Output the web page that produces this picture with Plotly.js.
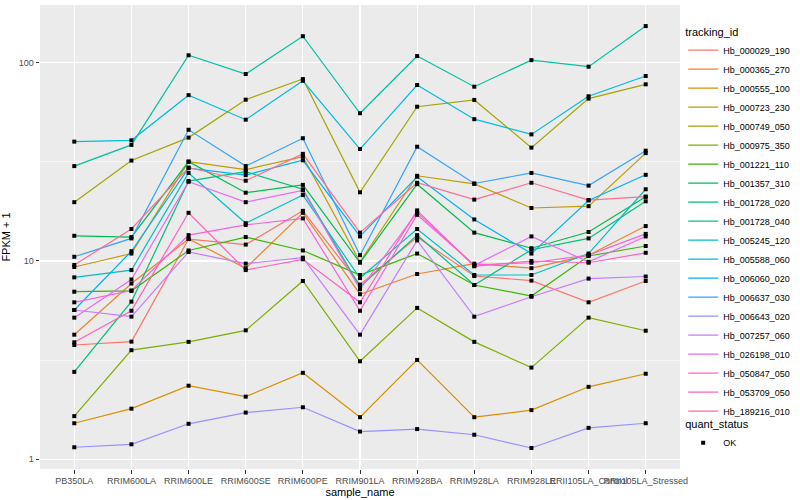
<!DOCTYPE html>
<html>
<head>
<meta charset="utf-8">
<script src="https://cdn.plot.ly/plotly-3.0.1.min.js"></script>
<style>html,body{margin:0;padding:0;background:#fff}#chart{width:800px;height:500px}</style>
</head>
<body>
<div id="chart"></div>
<script>
// ---- data ----
const sampleNames = ["PB350LA","RRIM600LA","RRIM600LE","RRIM600SE","RRIM600PE","RRIM901LA","RRIM928BA","RRIM928LA","RRIM928LE","RRII105LA_Control","RRII105LA_Stressed"];
const trackingIds = ["Hb_000029_190","Hb_000365_270","Hb_000555_100","Hb_000723_230","Hb_000749_050","Hb_000975_350","Hb_001221_110","Hb_001357_310","Hb_001728_020","Hb_001728_040","Hb_005245_120","Hb_005588_060","Hb_006060_020","Hb_006637_030","Hb_006643_020","Hb_007257_060","Hb_026198_010","Hb_050847_050","Hb_053709_050","Hb_189216_010"];
const Hb_000029_190 = [3.77, 3.92, 12.9, 12.1, 17.9, 7.6, 13.2, 8.4, 7.96, 6.19, 7.93];
const Hb_000365_270 = [4.25, 7.7, 12.9, 9.2, 17.5, 6.8, 8.6, 9.7, 9.2, 10.7, 15.0];
const Hb_000555_100 = [1.52, 1.80, 2.35, 2.07, 2.73, 1.63, 3.17, 1.63, 1.77, 2.32, 2.70];
const Hb_000723_230 = [9.33, 10.9, 31.7, 28.9, 33.6, 9.9, 26.9, 24.5, 18.5, 18.9, 35.0];
const Hb_000749_050 = [19.8, 32.1, 41.9, 65.1, 82.7, 22.2, 60.0, 64.9, 37.3, 65.9, 77.8];
const Hb_000975_350 = [1.65, 3.55, 3.91, 4.47, 7.93, 3.12, 5.80, 3.91, 2.90, 5.18, 4.45];
const Hb_001221_110 = [7.0, 7.07, 11.3, 13.2, 11.3, 8.5, 10.9, 7.57, 6.66, 10.6, 11.9];
const Hb_001357_310 = [13.4, 13.2, 31.7, 22.1, 24.2, 9.8, 24.4, 13.9, 11.6, 14.0, 21.1];
const Hb_001728_020 = [2.76, 6.24, 25.3, 28.2, 23.0, 7.4, 13.5, 7.57, 11.4, 13.0, 20.0];
const Hb_001728_040 = [30.1, 38.5, 109, 87.7, 136, 55.6, 108, 75.7, 103, 95.5, 153];
const Hb_005245_120 = [8.27, 9.0, 27.8, 15.5, 21.5, 8.2, 14.5, 8.5, 8.5, 10.9, 23.0];
const Hb_005588_060 = [40.0, 40.6, 68.6, 51.6, 81, 36.7, 77.2, 51.9, 43.5, 67.7, 85.7];
const Hb_006060_020 = [5.66, 11.2, 29.4, 27.1, 32.2, 13.3, 26.6, 16.2, 10.9, 20.2, 27.2];
const Hb_006637_030 = [10.5, 13.0, 45.9, 30.1, 41.6, 10.7, 37.7, 24.6, 27.8, 24.0, 36.0];
const Hb_006643_020 = [1.15, 1.19, 1.51, 1.72, 1.83, 1.38, 1.42, 1.33, 1.14, 1.44, 1.52];
const Hb_007257_060 = [5.66, 5.24, 11.1, 9.7, 10.4, 4.25, 12.7, 5.24, 6.6, 8.15, 8.35];
const Hb_026198_010 = [5.18, 8.07, 25.1, 19.8, 22.7, 7.2, 17.6, 9.5, 13.3, 9.9, 13.3];
const Hb_050847_050 = [6.19, 7.1, 13.5, 15.2, 16.4, 5.61, 17.1, 9.55, 9.8, 10.7, 13.7];
const Hb_053709_050 = [3.89, 5.61, 17.5, 9.0, 10.2, 6.19, 18.0, 9.4, 10.0, 9.8, 11.0];
const Hb_189216_010 = [9.55, 14.5, 29.6, 25.4, 34.7, 13.9, 24.8, 20.4, 24.8, 20.3, 21.1];
const quantStatus = ["OK"];
const yTickValues = [1, 10, 100];
const yTickLabels = ["1", "10", "100"];
const yMinorValues = [3.1623, 31.623];

const seriesValues = [Hb_000029_190, Hb_000365_270, Hb_000555_100, Hb_000723_230, Hb_000749_050, Hb_000975_350, Hb_001221_110, Hb_001357_310, Hb_001728_020, Hb_001728_040, Hb_005245_120, Hb_005588_060, Hb_006060_020, Hb_006637_030, Hb_006643_020, Hb_007257_060, Hb_026198_010, Hb_050847_050, Hb_053709_050, Hb_189216_010];

// ---- style ----
const palette = ["#F8766D","#EA8331","#D89000","#C09B00","#A3A500","#7CAE00","#39B600","#00BB4E","#00BF7D","#00C1A3","#00BFC4","#00BAE0","#00B0F6","#35A2FF","#9590FF","#C77CFF","#E76BF3","#FA62DB","#FF62BC","#FF6C91"];
const FONT = "Liberation Sans, Arial, sans-serif";

const traces = [];
trackingIds.forEach((id, i) => {
  traces.push({
    type: "scatter", mode: "lines", name: id,
    x: sampleNames, y: seriesValues[i],
    line: {color: palette[i], width: 1.2},
    legend: "legend", hoverinfo: "skip"
  });
});
// points on top of all lines
const allX = [], allY = [];
seriesValues.forEach(v => v.forEach((val, j) => { allX.push(sampleNames[j]); allY.push(val); }));
traces.push({
  type: "scatter", mode: "markers", name: quantStatus[0],
  x: allX, y: allY,
  marker: {symbol: "square", size: 4, color: "#000000"},
  legend: "legend2", hoverinfo: "skip"
});

const layout = {
  width: 800, height: 500,
  margin: {l: 40, r: 113, t: 5, b: 31},
  paper_bgcolor: "#FFFFFF", plot_bgcolor: "#EBEBEB",
  font: {family: FONT, size: 9, color: "#000000"},
  showlegend: true, hovermode: false,
  xaxis: {
    type: "category", categoryarray: sampleNames, categoryorder: "array",
    range: [-0.6, 10.6], showgrid: true, gridcolor: "#FFFFFF", gridwidth: 1.1,
    zeroline: false, showline: false,
    ticks: "outside", ticklen: 3.5, tickwidth: 1, tickcolor: "#333333",
    tickfont: {family: FONT, size: 9, color: "#4D4D4D"},
    tickangle: 0,
    title: {text: "sample_name", font: {family: FONT, size: 11, color: "#000000"}, standoff: 2}
  },
  yaxis: {
    type: "log", range: [-0.049, 2.291],
    tickmode: "array", tickvals: yTickValues, ticktext: yTickLabels,
    showgrid: true, gridcolor: "#FFFFFF", gridwidth: 1.1,
    minor: {tickmode: "array", tickvals: yMinorValues, showgrid: true, gridcolor: "#FFFFFF", gridwidth: 0.55, ticks: ""},
    zeroline: false, showline: false,
    ticks: "outside", ticklen: 3.5, tickwidth: 1, tickcolor: "#333333",
    tickfont: {family: FONT, size: 9, color: "#4D4D4D"},
    title: {text: "FPKM + 1", font: {family: FONT, size: 11, color: "#000000"}, standoff: 6}
  },
  legend: {
    x: 1.005, xanchor: "left", y: 0.9647, yanchor: "top",
    bgcolor: "rgba(0,0,0,0)", font: {family: FONT, size: 9, color: "#000000"},
    title: {text: "tracking_id", font: {family: FONT, size: 11, color: "#000000"}},
    itemwidth: 30, tracegroupgap: 0
  },
  legend2: {
    x: 1.005, xanchor: "left", y: 0.1185, yanchor: "top",
    bgcolor: "rgba(0,0,0,0)", font: {family: FONT, size: 9, color: "#000000"},
    title: {text: "quant_status", font: {family: FONT, size: 11, color: "#000000"}},
    itemwidth: 30
  }
};

Plotly.newPlot("chart", traces, layout, {displayModeBar: false, staticPlot: true});
</script>
</body>
</html>
